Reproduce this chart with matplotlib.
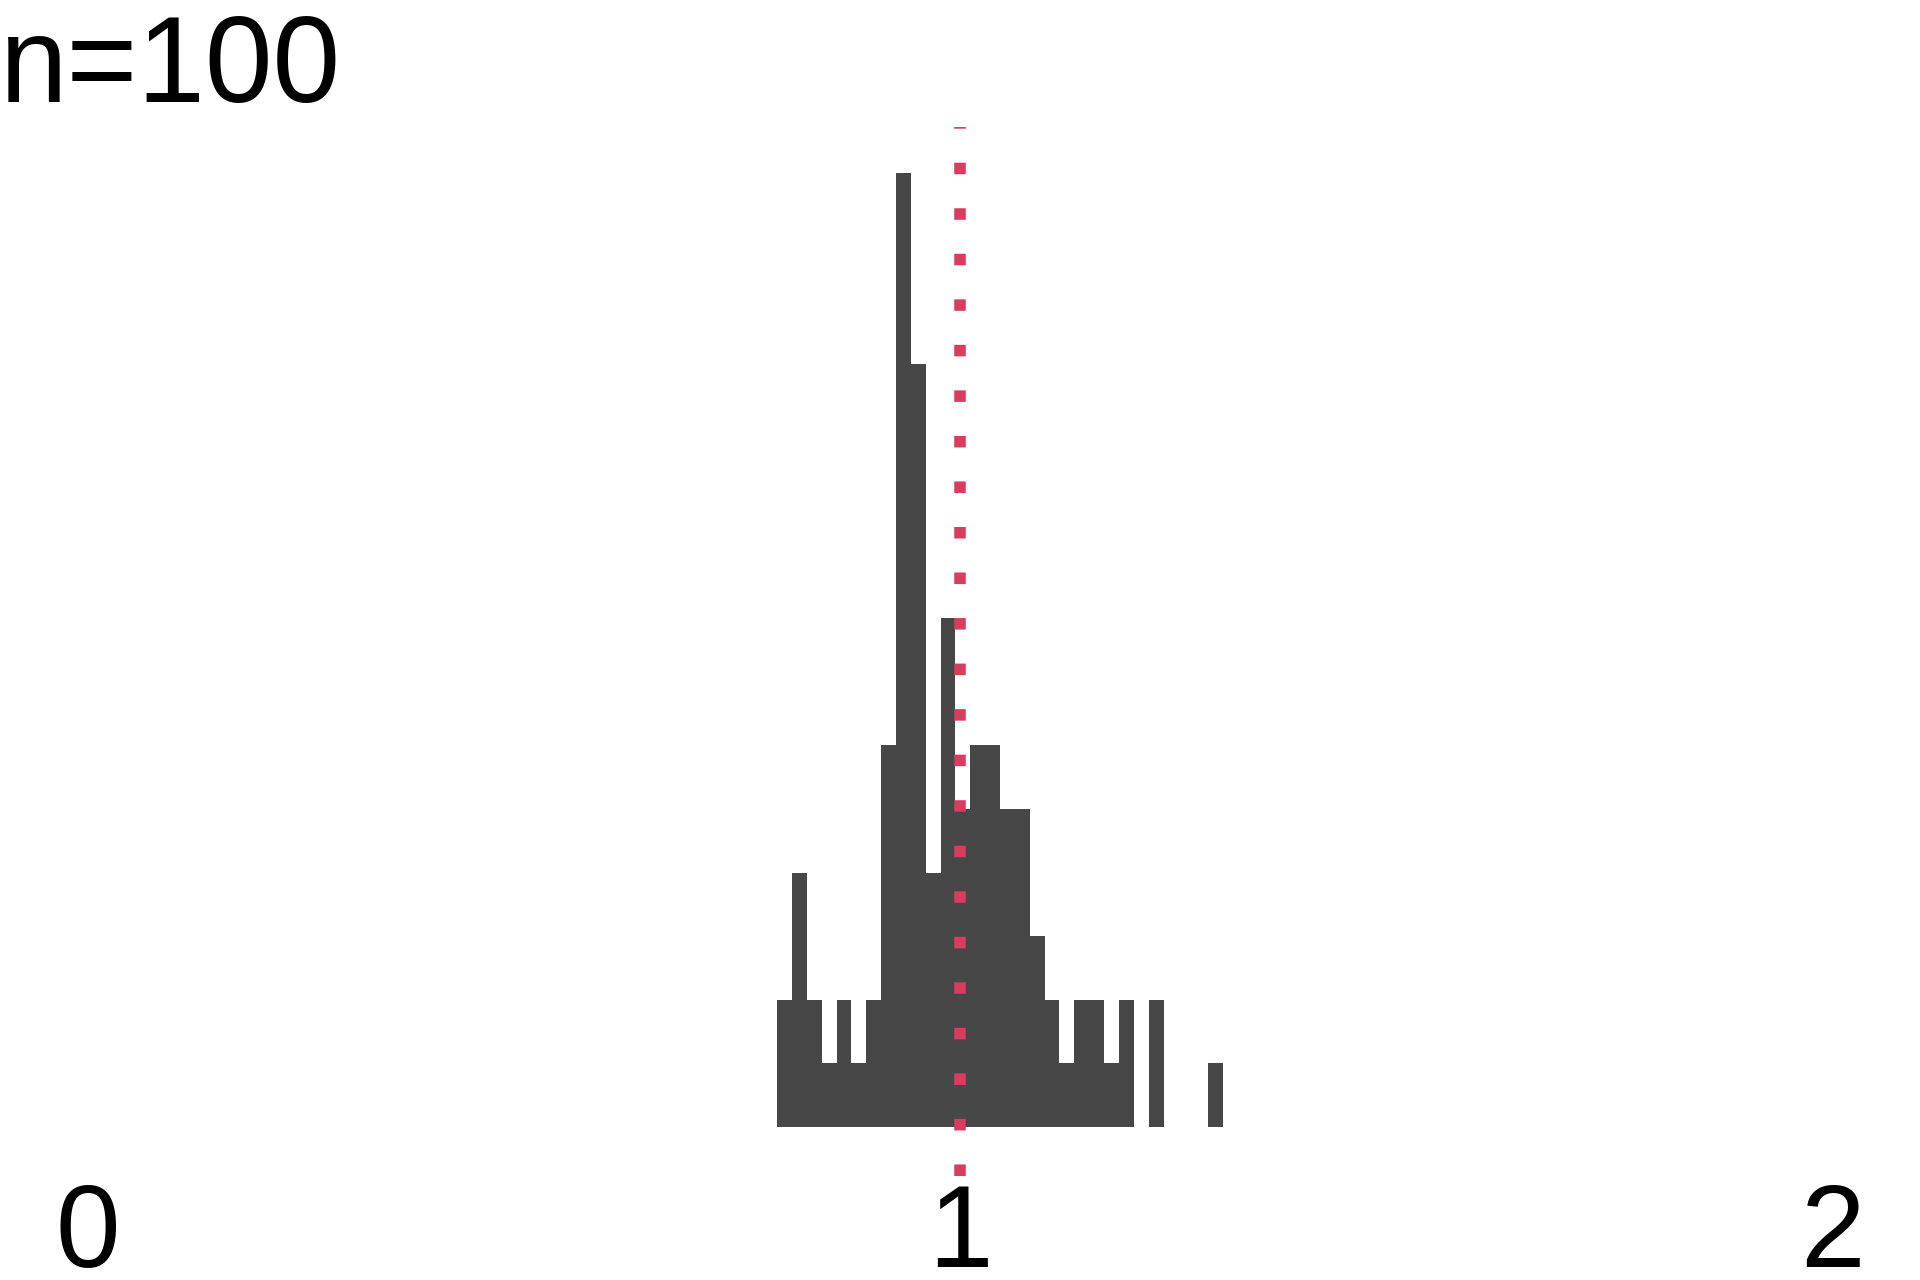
import numpy as np
import matplotlib.pyplot as plt

# histogram counts (30 bins)
counts = [2, 4, 2, 1, 2, 1, 2, 6, 15, 12, 4, 8, 5, 6, 6,
          5, 5, 3, 2, 1, 2, 2, 1, 2, 0, 2, 0, 0, 0, 1]
bin_start = 0.7904
bin_width = 0.01703
ref_value = 1.0
tick_vals = [0, 1, 2]
tick_labels = ['0', '1', '2']
title = 'n=100'

bar_color = '#474747'
line_color = '#D83C5E'

plt.rcParams['font.family'] = ['Liberation Sans', 'DejaVu Sans']

fig = plt.figure(figsize=(19.2, 12.8), dpi=100)
ax = fig.add_axes([0, 1 - 1176 / 1280, 1, (1176 - 127) / 1280])

lefts = bin_start + bin_width * np.arange(len(counts))
ax.bar(lefts, counts, width=bin_width, align='edge', color=bar_color,
       linewidth=0, zorder=2)
ax.axvline(ref_value, color=line_color, linewidth=8.3, dashes=(1, 2.95),
           dash_capstyle='butt', zorder=3)

ax.set_xlim(-0.1, 2.1)
ax.set_ylim(-0.77, 15.72)
ax.set_xticks(tick_vals)
ax.set_xticklabels(tick_labels, fontsize=83.5)
ax.tick_params(axis='x', length=0, pad=4)
ax.set_yticks([])
for s in ax.spines.values():
    s.set_visible(False)

fig.text(0.0, 1 - 101.7 / 1280, title, fontsize=87.5, ha='left', va='baseline')

fig.savefig('out.png', dpi=100)
